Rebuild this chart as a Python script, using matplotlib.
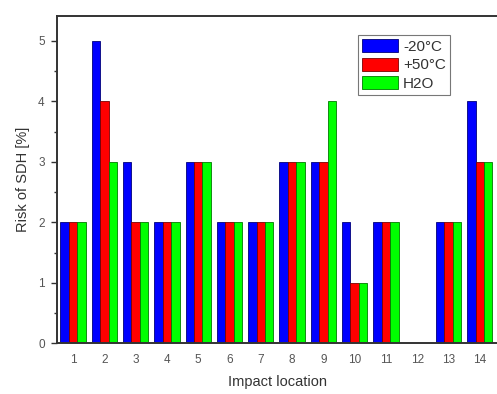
import numpy as np
import matplotlib
matplotlib.use("Agg")
from matplotlib import pyplot as plt
from matplotlib.ticker import MultipleLocator

# risk of SDH per impact location, one series per condition
locations = np.arange(1, 15)
cold = [2, 5, 3, 2, 3, 2, 2, 3, 3, 2, 2, 0, 2, 4]    # -20°C
warm = [2, 4, 2, 2, 3, 2, 2, 3, 3, 1, 2, 0, 2, 3]    # +50°C
water = [2, 3, 2, 2, 3, 2, 2, 3, 4, 1, 2, 0, 2, 3]   # H2O
labels = ["-20°C", "+50°C", "H2O"]

plt.rcParams['font.family'] = ['Liberation Sans', 'DejaVu Sans']

fig = plt.figure(figsize=(4.97, 3.94), dpi=100)
ax = fig.add_axes([0.115, 0.129, 0.885, 0.83])

w = 0.27
series = [(cold, "#0000ff", "#00007a"), (warm, "#ff0000", "#7a0000"), (water, "#00ff00", "#007a00")]
for i, (vals, fc, ec) in enumerate(series):
    ax.bar(locations + (i - 1) * w, vals, width=w, color=fc, edgecolor=ec,
           linewidth=0.6, label=labels[i])

ax.set_xlim(0.49, 14.55)
ax.set_ylim(0, 5.41)
ax.set_xticks(locations)
ax.yaxis.set_major_locator(MultipleLocator(1))
ax.yaxis.set_minor_locator(MultipleLocator(0.5))

ax.spines['right'].set_visible(False)
for s in ['left', 'top', 'bottom']:
    ax.spines[s].set_color('#333333')
    ax.spines[s].set_linewidth(1.4)

ax.tick_params(axis='x', length=0, pad=8, labelsize=8.5, labelcolor='#555555')
ax.tick_params(axis='y', which='major', direction='out', length=4, width=1,
               color='#333333', labelsize=8.5, labelcolor='#555555', pad=5)
ax.tick_params(axis='y', which='minor', direction='out', length=2.5, width=1,
               color='#333333')

ax.set_xlabel("Impact location", fontsize=10.5, color='#333333', labelpad=6)
ax.set_ylabel("Risk of SDH [%]", fontsize=10.5, color='#333333', labelpad=6)

leg = ax.legend(loc='upper left', bbox_to_anchor=(0.684, 0.942), fontsize=11,
                frameon=True, fancybox=False, borderpad=0.25, labelspacing=0.25,
                handlelength=2.35, handleheight=0.95, handletextpad=0.35,
                borderaxespad=0)
leg.get_frame().set_edgecolor('#555555')
leg.get_frame().set_linewidth(0.8)
for t in leg.get_texts():
    t.set_color('#333333')

fig.savefig("out.png", dpi=100)
